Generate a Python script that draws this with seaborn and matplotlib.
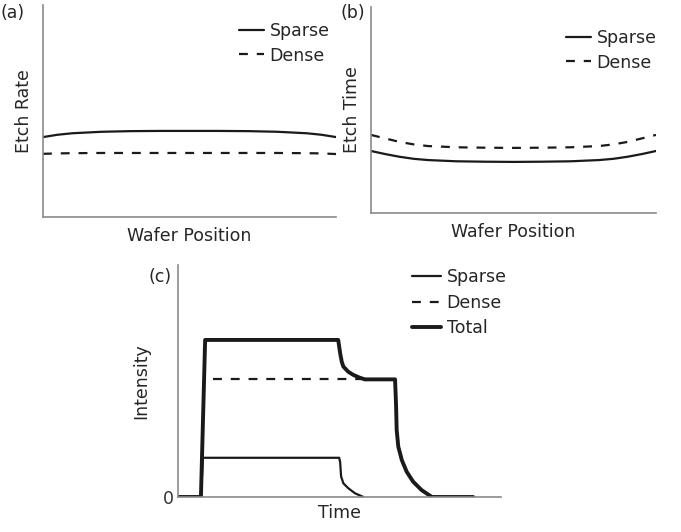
import numpy as np
import pandas as pd
import matplotlib
matplotlib.use("Agg")
import matplotlib.pyplot as plt
import seaborn as sns

sns.set_style("white")
plt.rcParams['font.family'] = ['DejaVu Sans']

# ---- Panel (a): etch rate vs wafer position ----
pos_a = [0.0, 0.05, 0.1, 0.2, 0.3, 0.4, 0.5, 0.6, 0.7, 0.8, 0.9, 0.95, 1.0]
rate_sparse = [0.377, 0.388, 0.395, 0.402, 0.405, 0.406, 0.406, 0.406, 0.405, 0.402, 0.395, 0.388, 0.377]
rate_dense = [0.298, 0.300, 0.301, 0.302, 0.302, 0.302, 0.302, 0.302, 0.302, 0.302, 0.301, 0.300, 0.297]

# ---- Panel (b): etch time vs wafer position ----
pos_b = [0.0, 0.05, 0.1, 0.15, 0.2, 0.3, 0.4, 0.5, 0.6, 0.7, 0.8, 0.85, 0.9, 0.95, 1.0]
time_sparse = [0.301, 0.286, 0.273, 0.263, 0.257, 0.251, 0.249, 0.248, 0.249, 0.251, 0.257, 0.263, 0.273, 0.286, 0.301]
time_dense = [0.379, 0.362, 0.345, 0.333, 0.325, 0.319, 0.317, 0.316, 0.317, 0.319, 0.325, 0.333, 0.345, 0.362, 0.379]

# ---- Panel (c): intensity vs time ----
t_sparse = [0.0, 7.1, 7.7, 49.9, 50.2, 50.5, 51.2, 52.7, 54.8, 57.4]
i_sparse = [0.0, 0.0, 0.169, 0.169, 0.150, 0.088, 0.059, 0.038, 0.016, 0.0]
t_dense = [10.8, 58.4]
i_dense = [0.507, 0.507]
t_total = [0.0, 7.1, 8.4, 49.6, 50.2, 50.7, 51.2, 52.7, 54.3, 56.3, 57.9, 67.2,
           67.5, 67.7, 68.2, 69.3, 70.8, 72.8, 75.4, 78.6, 91.4]
i_total = [0.0, 0.0, 0.677, 0.677, 0.62, 0.583, 0.562, 0.540, 0.526, 0.514, 0.507, 0.507,
           0.40, 0.289, 0.217, 0.159, 0.109, 0.066, 0.030, 0.0, 0.0]

W, H = 681, 532
fig = plt.figure(figsize=(W / 100, H / 100), dpi=100)

def ax_px(l, r, t, b):
    return fig.add_axes([l / W, (H - b) / H, (r - l) / W, (b - t) / H])

LINE = "#1a1a1a"
SPINE = "#8a8a8a"
FS = 12.5

def style_axes(ax):
    for s in ["top", "right"]:
        ax.spines[s].set_visible(False)
    for s in ["left", "bottom"]:
        ax.spines[s].set_color(SPINE)
        ax.spines[s].set_linewidth(1.2)
    ax.set_xticks([])
    ax.set_yticks([])

# (a)
axa = ax_px(43, 336, 5, 217)
df = pd.DataFrame({"x": pos_a, "y": rate_sparse})
sns.lineplot(data=df, x="x", y="y", ax=axa, color=LINE, lw=1.6, label="Sparse")
df = pd.DataFrame({"x": pos_a, "y": rate_dense})
sns.lineplot(data=df, x="x", y="y", ax=axa, color=LINE, lw=1.6, ls=(0, (4, 4)), label="Dense")
axa.set_xlim(0, 1); axa.set_ylim(0, 1)
style_axes(axa)
axa.set_xlabel("Wafer Position", fontsize=FS, labelpad=7)
axa.set_ylabel("Etch Rate", fontsize=FS, labelpad=7)
axa.legend(loc="upper right", bbox_to_anchor=(1.02, 0.975), frameon=False, fontsize=FS,
           handlelength=1.4, handletextpad=0.35, labelspacing=0.35, borderaxespad=0.3)
fig.text(0.0, (H - 13) / H, "(a)", fontsize=FS, va="center", ha="left")

# (b)
axb = ax_px(371, 656, 7, 213)
df = pd.DataFrame({"x": pos_b, "y": time_sparse})
sns.lineplot(data=df, x="x", y="y", ax=axb, color=LINE, lw=1.6, label="Sparse")
df = pd.DataFrame({"x": pos_b, "y": time_dense})
sns.lineplot(data=df, x="x", y="y", ax=axb, color=LINE, lw=1.6, ls=(0, (4, 4)), label="Dense")
axb.set_xlim(0, 1); axb.set_ylim(0, 1)
style_axes(axb)
axb.set_xlabel("Wafer Position", fontsize=FS, labelpad=7)
axb.set_ylabel("Etch Time", fontsize=FS, labelpad=7)
axb.legend(loc="upper right", bbox_to_anchor=(1.045, 0.95), frameon=False, fontsize=FS,
           handlelength=1.4, handletextpad=0.35, labelspacing=0.35, borderaxespad=0.3)
fig.text(340 / W, (H - 13) / H, "(b)", fontsize=FS, va="center", ha="left")

# (c)
axc = ax_px(178, 501, 265, 497)
df = pd.DataFrame({"x": t_sparse, "y": i_sparse})
sns.lineplot(data=df, x="x", y="y", ax=axc, color=LINE, lw=1.6, label="Sparse", sort=False)
df = pd.DataFrame({"x": t_dense, "y": i_dense})
sns.lineplot(data=df, x="x", y="y", ax=axc, color=LINE, lw=1.6, ls=(0, (4, 4)), label="Dense", sort=False)
df = pd.DataFrame({"x": t_total, "y": i_total})
sns.lineplot(data=df, x="x", y="y", ax=axc, color=LINE, lw=2.8, label="Total", sort=False)
axc.set_xlim(0, 100); axc.set_ylim(0, 1)
style_axes(axc)
axc.set_yticks([0])
axc.set_yticklabels(["0"], fontsize=FS, color="#333333")
axc.tick_params(axis="y", length=0, pad=3)
axc.set_xlabel("Time", fontsize=FS, labelpad=5)
axc.set_ylabel("Intensity", fontsize=FS, labelpad=9)
axc.legend(loc="upper right", bbox_to_anchor=(1.055, 1.04), frameon=False, fontsize=FS,
           handlelength=1.65, handletextpad=0.35, labelspacing=0.45, borderaxespad=0.3)
fig.text(148 / W, (H - 277) / H, "(c)", fontsize=FS, va="center", ha="left")

fig.savefig("out.png", dpi=100)
